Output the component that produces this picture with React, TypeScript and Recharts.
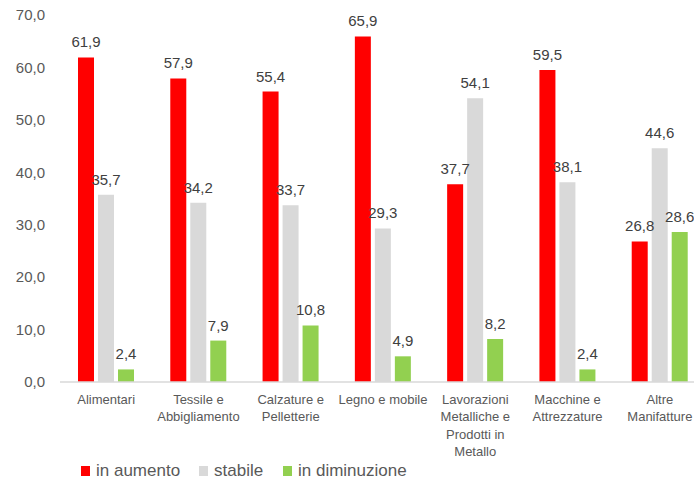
import React from 'react';
import { BarChart, Bar, XAxis, YAxis, Legend, LabelList } from 'recharts';

const categories = [
  'Alimentari',
  'Tessile e Abbigliamento',
  'Calzature e Pelletterie',
  'Legno e mobile',
  'Lavorazioni Metalliche e Prodotti in Metallo',
  'Macchine e Attrezzature',
  'Altre Manifatture',
];
const categoryLines: string[][] = [
  ['Alimentari'],
  ['Tessile e', 'Abbigliamento'],
  ['Calzature e', 'Pelletterie'],
  ['Legno e mobile'],
  ['Lavorazioni', 'Metalliche e', 'Prodotti in', 'Metallo'],
  ['Macchine e', 'Attrezzature'],
  ['Altre', 'Manifatture'],
];
const inAumento = [61.9, 57.9, 55.4, 65.9, 37.7, 59.5, 26.8];
const stabile = [35.7, 34.2, 33.7, 29.3, 54.1, 38.1, 44.6];
const inDiminuzione = [2.4, 7.9, 10.8, 4.9, 8.2, 2.4, 28.6];
const yTicks = [0, 10, 20, 30, 40, 50, 60, 70];

const seriesNames = ['in aumento', 'stabile', 'in diminuzione'];
const colors = ['#FF0000', '#D9D9D9', '#92D050'];

const data = categories.map((c, i) => ({
  name: c,
  a: inAumento[i],
  s: stabile[i],
  d: inDiminuzione[i],
}));

const FONT = '"Liberation Sans", Arial, sans-serif';
const fmt = (v: any) => Number(v).toFixed(1).replace('.', ',');

const CatTick = (props: any) => {
  const { x, y, index } = props;
  const lines = categoryLines[index] || [];
  return (
    <text x={x} y={y} textAnchor="middle" fill="#595959" fontSize={13} fontFamily={FONT}>
      {lines.map((l, i) => (
        <tspan key={i} x={x} dy={i === 0 ? 22 : 17.3}>
          {l}
        </tspan>
      ))}
    </text>
  );
};

const LegendContent = () => (
  <div style={{ height: 36, position: 'relative', fontFamily: FONT, fontSize: 17, color: '#595959' }}>
    {seriesNames.map((n, i) => (
      <div
        key={n}
        style={{
          position: 'absolute',
          left: [81, 199, 283][i],
          top: 16,
          height: 20,
          display: 'flex',
          alignItems: 'center',
          whiteSpace: 'nowrap',
        }}
      >
        <span style={{ display: 'inline-block', width: 9, height: 10, background: colors[i], marginRight: 6 }} />
        <span>{n}</span>
      </div>
    ))}
  </div>
);

export default function App() {
  return (
    <div style={{ position: 'absolute', left: 0, top: 0, width: 694, height: 481, overflow: 'hidden', background: '#fff' }}>
      <BarChart
        width={706}
        height={481}
        data={data}
        margin={{ top: 15, right: 0, bottom: 0, left: 0 }}
        barSize={16}
        barGap={4}
      >
        <YAxis
          width={60}
          domain={[0, 70]}
          ticks={yTicks}
          tickFormatter={fmt}
          axisLine={false}
          tickLine={false}
          tickSize={0}
          tickMargin={15}
          tick={{ fill: '#595959', fontSize: 15, fontFamily: FONT }}
        />
        <XAxis
          dataKey="name"
          height={63}
          interval={0}
          tickLine={false}
          tickSize={0}
          tickMargin={0}
          axisLine={{ stroke: '#D9D9D9', strokeWidth: 1.5 }}
          tick={<CatTick />}
        />
        <Legend verticalAlign="bottom" content={<LegendContent />} />
        <Bar dataKey="a" name={seriesNames[0]} fill={colors[0]} isAnimationActive={false}>
          <LabelList dataKey="a" position="top" offset={10} formatter={fmt} fill="#404040" fontSize={15} fontFamily={FONT} />
        </Bar>
        <Bar dataKey="s" name={seriesNames[1]} fill={colors[1]} isAnimationActive={false}>
          <LabelList dataKey="s" position="top" offset={10} formatter={fmt} fill="#404040" fontSize={15} fontFamily={FONT} />
        </Bar>
        <Bar dataKey="d" name={seriesNames[2]} fill={colors[2]} isAnimationActive={false}>
          <LabelList dataKey="d" position="top" offset={10} formatter={fmt} fill="#404040" fontSize={15} fontFamily={FONT} />
        </Bar>
      </BarChart>
    </div>
  );
}
